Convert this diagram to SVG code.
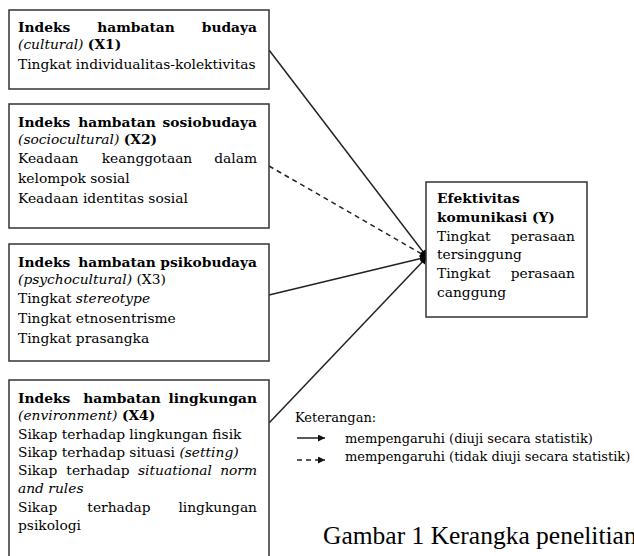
<svg xmlns="http://www.w3.org/2000/svg" width="634" height="556" viewBox="0 0 634 556">
<defs>
<style>
.box{fill:#fff;stroke:#333;stroke-width:1.5}
text{font-family:"DejaVu Serif","Liberation Serif",serif;font-size:13.8px;fill:#000}
.b{font-weight:bold}
.i{font-style:italic}
.m{text-anchor:middle}
.e{text-anchor:end}
.ln{stroke:#222;stroke-width:1.5;fill:none}
.leg{font-size:13px}
.cap{font-family:"Liberation Serif","Times New Roman",serif;font-size:25.5px;fill:#000}
</style>
<marker id="ah" viewBox="0 0 10 10" refX="10" refY="5" markerWidth="9" markerHeight="7" markerUnits="userSpaceOnUse" orient="auto">
<path d="M0,0 L10,5 L0,10 z" fill="#000"/>
</marker>
<marker id="ahl" viewBox="0 0 10 10" refX="10" refY="5" markerWidth="8" markerHeight="7" markerUnits="userSpaceOnUse" orient="auto">
<path d="M0,0 L10,5 L0,10 z" fill="#111"/>
</marker>
</defs>

<g id="connectors">
<line class="ln" x1="269" y1="50" x2="427" y2="257" marker-end="url(#ah)"/>
<line class="ln" x1="269" y1="166" x2="427" y2="257" stroke-dasharray="5,4" marker-end="url(#ah)"/>
<line class="ln" x1="269" y1="295" x2="427" y2="257" marker-end="url(#ah)"/>
<line class="ln" x1="269" y1="423" x2="427" y2="257" marker-end="url(#ah)"/>
</g>

<g id="x1">
<rect class="box" x="9" y="10" width="260" height="79"/>
<text class="b" x="18" y="31.5">Indeks</text>
<text class="b m" x="136" y="31.5">hambatan</text>
<text class="b e" x="257" y="31.5">budaya</text>
<text x="18" y="49"><tspan class="i">(cultural)</tspan> <tspan class="b">(X1)</tspan></text>
<text x="18" y="69">Tingkat individualitas-kolektivitas</text>
</g>

<g id="x2">
<rect class="box" x="9" y="104" width="260" height="124"/>
<text class="b" x="18" y="127">Indeks</text>
<text class="b m" x="117" y="127">hambatan</text>
<text class="b e" x="257" y="127">sosiobudaya</text>
<text x="18" y="143.5"><tspan class="i">(sociocultural)</tspan> <tspan class="b">(X2)</tspan></text>
<text x="18" y="163">Keadaan</text>
<text class="m" x="147" y="163">keanggotaan</text>
<text class="e" x="257" y="163">dalam</text>
<text x="18" y="183">kelompok sosial</text>
<text x="18" y="203">Keadaan identitas sosial</text>
</g>

<g id="x3">
<rect class="box" x="9" y="244" width="260" height="117"/>
<text class="b" x="18" y="267">Indeks</text>
<text class="b m" x="117" y="267">hambatan</text>
<text class="b e" x="257" y="267">psikobudaya</text>
<text x="18" y="283.5"><tspan class="i">(psychocultural)</tspan> (X3)</text>
<text x="18" y="303">Tingkat <tspan class="i">stereotype</tspan></text>
<text x="18" y="323">Tingkat etnosentrisme</text>
<text x="18" y="343">Tingkat prasangka</text>
</g>

<g id="x4">
<rect class="box" x="9" y="380" width="260" height="190"/>
<text class="b" x="18" y="403">Indeks</text>
<text class="b m" x="122" y="403">hambatan</text>
<text class="b e" x="257" y="403">lingkungan</text>
<text x="18" y="420"><tspan class="i">(environment)</tspan> <tspan class="b">(X4)</tspan></text>
<text x="18" y="438.5">Sikap terhadap lingkungan fisik</text>
<text x="18" y="457">Sikap terhadap situasi <tspan class="i">(setting)</tspan></text>
<text x="18" y="475">Sikap</text>
<text class="m" x="98" y="475">terhadap</text>
<text class="i" x="138" y="475">situational</text>
<text class="i e" x="257" y="475">norm</text>
<text class="i" x="18" y="493">and rules</text>
<text x="18" y="511.5">Sikap</text>
<text class="m" x="119" y="511.5">terhadap</text>
<text class="e" x="257" y="511.5">lingkungan</text>
<text x="18" y="530">psikologi</text>
</g>

<g id="y">
<rect class="box" x="426" y="182" width="161" height="135"/>
<text class="b" x="437" y="203">Efektivitas</text>
<text class="b" x="437" y="222">komunikasi (Y)</text>
<text x="437" y="241">Tingkat</text>
<text class="e" x="575" y="241">perasaan</text>
<text x="437" y="259">tersinggung</text>
<text x="437" y="278">Tingkat</text>
<text class="e" x="575" y="278">perasaan</text>
<text x="437" y="297">canggung</text>
</g>

<g id="legend">
<text class="leg" x="295" y="422">Keterangan:</text>
<line class="ln" x1="297" y1="438" x2="325" y2="438" marker-end="url(#ahl)"/>
<text class="leg" x="345" y="443">mempengaruhi (diuji secara statistik)</text>
<line class="ln" x1="297" y1="460" x2="325" y2="460" stroke-dasharray="5,4" marker-end="url(#ahl)"/>
<text class="leg" x="345" y="461">mempengaruhi (tidak diuji secara statistik)</text>
</g>

<g id="caption">
<text class="cap" x="323" y="544">Gambar 1 Kerangka penelitian</text>
</g>
</svg>
